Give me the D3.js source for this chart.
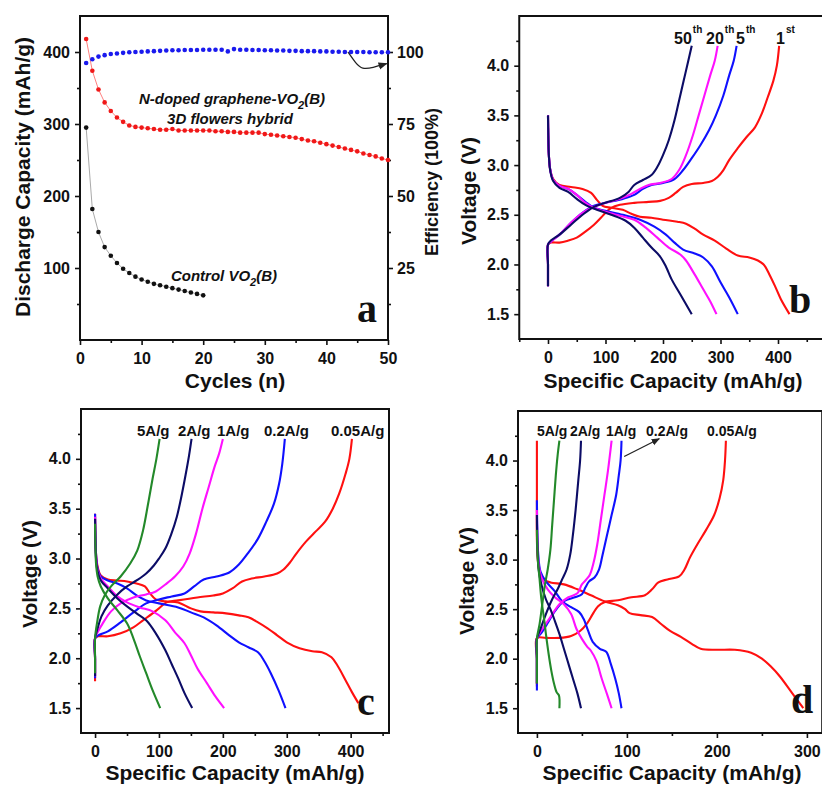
<!DOCTYPE html>
<html>
<head>
<meta charset="utf-8">
<script src="https://cdn.jsdelivr.net/npm/d3@7"></script>
<style>
  body { margin: 0; background: #fff; }
  svg text { font-family: "Liberation Sans", Arial, sans-serif; font-weight: bold; fill: #111; }
  .tick text { font-size: 16px; }
  .title { font-size: 21px; }
  .note { font-size: 15px; font-style: italic; }
  .lab { font-size: 15px; }
  .panel { font-family: "Liberation Serif", "Times New Roman", serif; font-size: 40px; }
</style>
</head>
<body>
<svg id="fig" width="822" height="787"></svg>
<script>
// ---- panel a: cycling ----
const cycles = [1,2,3,4,5,6,7,8,9,10,11,12,13,14,15,16,17,18,19,20,21,22,23,24,25,
  26,27,28,29,30,31,32,33,34,35,36,37,38,39,40,41,42,43,44,45,46,47,48,49,50];
const efficiency = [96.2,97.5,98.4,98.9,99.3,99.5,99.7,99.9,100.0,100.1,100.2,100.3,100.4,100.5,100.6,
  100.6,100.7,100.7,100.7,100.8,100.8,100.8,100.8,100.2,101.0,100.8,100.8,100.7,100.7,100.6,
  100.6,100.5,100.5,100.4,100.4,100.3,100.3,100.3,100.2,100.2,100.1,100.1,100.0,100.0,100.0,
  100.0,99.9,99.9,99.9,99.9];
const hybridCapacity = [418,374,348,330,318,309,303,298,296,295,294,293,292,292,293,291,291,291,291,291,
  291,290,290,289,289,288,288,288,288,286,285,284,283,282,281,279,277,276,274,272,
  270,268,266,264,262,259,257,255,252,250];
const controlCapacity = [295,182,150,129,117,107,99,93,88,84,81,78,76,74,72,70,68,66,64,62];

// ---- panel b: cycles 1st, 5th, 20th, 50th (capacity mAh/g, voltage V) ----
const bNames = ['1st', '5th', '20th', '50th'];
const b1stDischarge = [[0,3.5],[0.5,3.3],[1.5,3.1],[4,2.95],[9,2.86],[20,2.8],[40,2.78],[60,2.76],[75,2.72],[85,2.65],[95,2.59],[110,2.57],[130,2.55],[145,2.51],[160,2.48],[180,2.47],[200,2.45],[225,2.43],[240,2.41],[255,2.36],[270,2.3],[290,2.24],[310,2.16],[330,2.09],[350,2.07],[365,2.04],[375,2.0],[385,1.9],[395,1.78],[405,1.65],[420,1.5]];
const b1stCharge = [[0,1.78],[0,2.0],[0,2.2],[5,2.22],[20,2.22],[35,2.24],[50,2.27],[65,2.33],[80,2.4],[92,2.47],[100,2.52],[110,2.57],[125,2.6],[150,2.62],[175,2.63],[195,2.64],[210,2.67],[222,2.72],[235,2.78],[250,2.81],[270,2.82],[285,2.84],[295,2.88],[305,2.95],[315,3.05],[330,3.17],[345,3.28],[360,3.38],[372,3.52],[382,3.68],[392,3.85],[398,4.0],[402,4.2]];
const b5thDischarge = [[0,3.5],[0.5,3.3],[1.5,3.1],[4,2.95],[9,2.85],[20,2.79],[35,2.76],[50,2.7],[65,2.63],[80,2.57],[100,2.54],[130,2.5],[160,2.45],[185,2.38],[205,2.3],[220,2.22],[235,2.15],[255,2.11],[270,2.07],[285,1.98],[300,1.82],[315,1.67],[330,1.5]];
const b5thCharge = [[0,1.78],[0,2.0],[0,2.2],[5,2.23],[20,2.3],[40,2.42],[60,2.52],[80,2.59],[100,2.62],[130,2.66],[150,2.7],[165,2.76],[180,2.8],[200,2.82],[220,2.86],[235,2.95],[250,3.07],[265,3.2],[280,3.35],[292,3.5],[305,3.7],[315,3.9],[323,4.05],[328,4.2]];
const b20thDischarge = [[0,3.5],[0.5,3.3],[1.5,3.1],[4,2.95],[9,2.85],[20,2.79],[35,2.76],[50,2.7],[65,2.62],[80,2.57],[100,2.53],[125,2.49],[150,2.45],[170,2.37],[190,2.27],[210,2.17],[230,2.1],[240,2.04],[255,1.9],[270,1.75],[282,1.63],[293,1.5]];
const b20thCharge = [[0,1.78],[0,2.0],[0,2.2],[5,2.23],[20,2.3],[40,2.42],[60,2.52],[80,2.58],[100,2.62],[125,2.66],[145,2.71],[160,2.76],[175,2.8],[195,2.82],[215,2.86],[228,2.95],[240,3.1],[252,3.3],[262,3.5],[272,3.7],[282,3.9],[290,4.05],[295,4.2]];
const b50thDischarge = [[0,3.5],[0.5,3.3],[1.5,3.1],[4,2.94],[9,2.84],[20,2.77],[35,2.73],[50,2.66],[65,2.6],[85,2.55],[110,2.5],[135,2.44],[150,2.37],[165,2.27],[180,2.17],[195,2.08],[205,1.98],[215,1.85],[230,1.7],[250,1.5]];
const b50thCharge = [[0,1.78],[0,2.0],[0,2.2],[5,2.24],[20,2.3],[40,2.4],[60,2.5],[80,2.58],[100,2.62],[125,2.67],[140,2.73],[150,2.8],[165,2.85],[180,2.9],[190,2.98],[200,3.1],[210,3.25],[220,3.45],[228,3.65],[236,3.85],[244,4.05],[250,4.2]];

// ---- panel c: rates ----
const rateNames = ['0.05A/g', '0.2A/g', '1A/g', '2A/g', '5A/g'];
const c005Discharge = [[0,3.45],[0.5,3.25],[1.5,3.05],[4,2.92],[9,2.83],[20,2.79],[35,2.78],[50,2.77],[65,2.75],[78,2.72],[86,2.65],[95,2.59],[110,2.57],[130,2.56],[150,2.5],[165,2.47],[185,2.46],[205,2.45],[225,2.43],[240,2.41],[255,2.36],[270,2.3],[285,2.23],[300,2.16],[320,2.1],[340,2.07],[355,2.06],[370,2.01],[380,1.92],[392,1.78],[402,1.66],[412,1.55]];
const c005Charge = [[0,1.77],[0,2.0],[0,2.2],[5,2.22],[20,2.22],[40,2.25],[60,2.31],[75,2.38],[90,2.45],[100,2.5],[112,2.56],[130,2.58],[160,2.61],[185,2.63],[200,2.65],[215,2.7],[230,2.77],[245,2.8],[265,2.82],[285,2.85],[295,2.89],[305,2.96],[315,3.05],[330,3.17],[345,3.27],[360,3.37],[372,3.5],[382,3.65],[392,3.85],[398,4.0],[402,4.2]];
const c02Discharge = [[0,3.45],[0.5,3.25],[1.5,3.05],[4,2.9],[9,2.82],[20,2.78],[35,2.75],[50,2.7],[65,2.63],[80,2.58],[100,2.55],[130,2.51],[150,2.46],[170,2.41],[190,2.33],[210,2.23],[225,2.16],[240,2.11],[255,2.06],[265,1.97],[275,1.85],[287,1.68],[298,1.5]];
const c02Charge = [[0,1.8],[0,2.0],[0,2.2],[5,2.23],[20,2.27],[40,2.36],[60,2.46],[80,2.55],[100,2.59],[120,2.62],[140,2.65],[155,2.72],[170,2.79],[190,2.82],[210,2.86],[225,2.94],[240,3.06],[255,3.2],[268,3.37],[280,3.55],[288,3.75],[293,3.95],[297,4.2]];
const c1Discharge = [[0,3.42],[0.5,3.22],[1.5,3.02],[4,2.88],[9,2.8],[20,2.72],[35,2.62],[50,2.56],[70,2.51],[90,2.47],[110,2.38],[125,2.26],[140,2.15],[150,2.03],[160,1.9],[175,1.75],[188,1.62],[202,1.5]];
const c1Charge = [[0,1.82],[0,2.0],[0,2.2],[4,2.26],[12,2.35],[25,2.47],[40,2.55],[60,2.61],[80,2.64],[95,2.67],[110,2.74],[125,2.82],[138,2.92],[148,3.05],[158,3.25],[168,3.5],[178,3.72],[187,3.92],[194,4.05],[200,4.2]];
const c2Discharge = [[0,3.4],[0.5,3.2],[1.5,3.0],[4,2.87],[9,2.78],[20,2.7],[35,2.6],[50,2.52],[65,2.45],[80,2.38],[95,2.25],[110,2.08],[120,1.94],[130,1.8],[140,1.65],[152,1.5]];
const c2Charge = [[0,1.82],[0,2.0],[0,2.2],[4,2.3],[10,2.42],[20,2.53],[35,2.64],[50,2.72],[65,2.78],[80,2.85],[92,2.93],[100,3.0],[110,3.1],[119,3.24],[128,3.42],[136,3.65],[142,3.85],[147,4.03],[151,4.2]];
const c5Discharge = [[0,3.35],[0.5,3.15],[1.5,2.95],[4,2.82],[9,2.72],[20,2.6],[35,2.48],[50,2.35],[60,2.2],[70,2.02],[80,1.85],[90,1.68],[102,1.5]];
const c5Charge = [[0,1.85],[0,2.0],[0,2.2],[3,2.35],[8,2.52],[15,2.63],[25,2.72],[40,2.82],[55,2.95],[66,3.08],[75,3.28],[83,3.55],[90,3.8],[96,4.0],[101,4.2]];

// ---- panel d: rates ----
const d005Discharge = [[0,4.2],[0,3.6],[0,3.2],[1,3.0],[3,2.88],[8,2.8],[15,2.77],[30,2.75],[45,2.7],[60,2.64],[75,2.58],[90,2.54],[98,2.5],[103,2.46],[115,2.44],[128,2.42],[138,2.35],[148,2.28],[160,2.22],[172,2.15],[182,2.1],[200,2.09],[220,2.09],[238,2.06],[250,2.0],[260,1.92],[270,1.82],[283,1.66],[296,1.5]];
const d005Charge = [[0,1.72],[0,2.0],[0,2.21],[10,2.21],[25,2.21],[38,2.23],[48,2.28],[56,2.36],[62,2.45],[68,2.53],[75,2.57],[90,2.59],[105,2.62],[120,2.64],[128,2.7],[135,2.77],[145,2.8],[158,2.83],[164,2.9],[170,3.02],[178,3.15],[188,3.3],[197,3.45],[203,3.62],[207,3.8],[209,4.0],[210,4.2]];
const d02Discharge = [[0,3.6],[0.5,3.3],[1.5,3.05],[4,2.88],[10,2.78],[20,2.68],[28,2.58],[38,2.52],[47,2.47],[52,2.4],[57,2.28],[62,2.17],[70,2.1],[77,2.07],[82,1.95],[87,1.8],[91,1.65],[94,1.5]];
const d02Charge = [[0,1.68],[0,2.0],[0,2.2],[5,2.26],[12,2.36],[20,2.48],[30,2.58],[42,2.62],[50,2.65],[54,2.72],[58,2.78],[64,2.82],[69,2.9],[73,3.05],[78,3.25],[83,3.45],[88,3.65],[91,3.85],[93,4.0],[94,4.2]];
const d1Discharge = [[0,3.5],[0.5,3.2],[2,2.95],[5,2.82],[12,2.7],[20,2.62],[30,2.55],[38,2.45],[44,2.3],[50,2.2],[56,2.12],[60,2.08],[66,1.98],[72,1.8],[78,1.64],[83,1.5]];
const d1Charge = [[0,1.75],[0,2.0],[0,2.2],[6,2.3],[15,2.42],[25,2.55],[35,2.62],[45,2.66],[50,2.75],[55,2.8],[59,2.85],[63,2.97],[67,3.15],[71,3.4],[75,3.65],[79,3.9],[83,4.2]];
const d2Discharge = [[0,3.45],[0.5,3.15],[2,2.9],[5,2.75],[10,2.6],[15,2.5],[20,2.38],[25,2.25],[30,2.1],[35,1.95],[40,1.8],[45,1.65],[49,1.5]];
const d2Charge = [[0,1.75],[0,2.0],[0,2.2],[4,2.3],[10,2.45],[17,2.6],[23,2.7],[28,2.8],[33,2.9],[37,3.05],[40,3.25],[43,3.5],[46,3.8],[48,4.0],[49,4.2]];
const d5Discharge = [[0,3.3],[1,3.0],[3,2.8],[5,2.6],[8,2.4],[10,2.25],[13,2.05],[16,1.88],[19,1.75],[22,1.66],[24.5,1.63],[25,1.5]];
const d5Charge = [[0,1.75],[0,2.0],[0,2.2],[3,2.35],[6,2.55],[9,2.75],[12,2.9],[15,3.1],[17,3.35],[19,3.6],[21,3.85],[23,4.05],[25,4.2]];

// tick labels
const cycleTicks = [0, 10, 20, 30, 40, 50];
const capTicks = [100, 200, 300, 400];
const effTicks = [25, 50, 75, 100];
const voltTicks = [1.5, 2.0, 2.5, 3.0, 3.5, 4.0];
const specTicks = [0, 100, 200, 300, 400];
const specTicksD = [0, 100, 200, 300];

const red = '#ff1010', blue = '#1010ff', magenta = '#ff10ff', navy = '#0c0c66', green = '#23892a';

const svg = d3.select('#fig');

svg.append('defs').append('marker')
  .attr('id', 'arrow')
  .attr('viewBox', '0 0 10 10')
  .attr('refX', 9).attr('refY', 5)
  .attr('markerWidth', 7).attr('markerHeight', 7)
  .attr('orient', 'auto')
  .append('path')
  .attr('d', 'M0,1 L10,5 L0,9 Z')
  .attr('fill', '#222');

// frame + ticks for a panel
function axes(x, y, o) {
  const [x0, x1] = x.range(), [y0, y1] = y.range();
  const g = svg.append('g');

  g.append('g')
    .attr('transform', `translate(0, ${y0})`)
    .call(d3.axisBottom(x).tickValues(o.xMinor).tickSize(3).tickFormat(''));
  g.append('g')
    .attr('transform', `translate(0, ${y0})`)
    .call(d3.axisBottom(x).tickValues(o.xMajor).tickSize(5).tickPadding(8));

  g.append('g')
    .attr('transform', `translate(${x0}, 0)`)
    .call(d3.axisLeft(y).tickValues(o.yMinor).tickSize(3).tickFormat(''));
  g.append('g')
    .attr('transform', `translate(${x0}, 0)`)
    .call(d3.axisLeft(y).tickValues(o.yMajor).tickSize(5).tickPadding(5).tickFormat(o.yFormat || null));

  g.selectAll('.domain').remove();
  g.selectAll('.tick line').attr('stroke', '#111').attr('stroke-width', 1.6);

  g.append('rect')
    .attr('x', x0).attr('y', y1)
    .attr('width', x1 - x0).attr('height', y0 - y1)
    .attr('fill', 'none').attr('stroke', '#111').attr('stroke-width', 2);

  svg.append('text').attr('class', 'title')
    .attr('x', o.xt[0]).attr('y', o.xt[1])
    .attr('text-anchor', 'middle').text(o.xTitle);
  svg.append('text').attr('class', 'title')
    .attr('transform', `translate(${o.yt[0]}, ${o.yt[1]}) rotate(-90)`)
    .attr('text-anchor', 'middle').text(o.yTitle);
  return g;
}

function curves(x, y, list, colors) {
  const line = d3.line()
    .x(d => x(d[0]))
    .y(d => y(d[1]))
    .curve(d3.curveCatmullRom.alpha(0.5));
  svg.append('g').selectAll('path')
    .data(list)
    .enter()
    .append('path')
    .attr('d', (d) => line(d))
    .attr('fill', 'none')
    .attr('stroke', (d, i) => colors[i])
    .attr('stroke-width', 2.1)
    .attr('stroke-linejoin', 'round');
}

// ================= a =================
const xA = d3.scaleLinear().domain([0, 50]).range([80, 388]);
const yA = d3.scaleLinear().domain([0, 450]).range([340, 16]);
const yE = d3.scaleLinear().domain([0, 112.5]).range([340, 16]);

axes(xA, yA, {
  xMajor: cycleTicks, xMinor: [5, 15, 25, 35, 45],
  yMajor: capTicks, yMinor: [50, 150, 250, 350],
  xTitle: 'Cycles (n)', xt: [235, 388],
  yTitle: 'Discharge Capacity (mAh/g)', yt: [30, 177]
});

const right = svg.append('g').attr('transform', 'translate(388, 0)');
right.append('g').call(d3.axisRight(yE).tickValues([12.5, 37.5, 62.5, 87.5]).tickSize(3).tickFormat(''));
right.append('g').call(d3.axisRight(yE).tickValues(effTicks).tickSize(5).tickPadding(4));
right.selectAll('.domain').remove();
right.selectAll('.tick line').attr('stroke', '#111').attr('stroke-width', 1.6);

svg.append('text').attr('class', 'title')
  .style('font-size', '18px')
  .attr('transform', 'translate(438, 182) rotate(-90)')
  .attr('text-anchor', 'middle').text('Efficiency (100%)');

const hybrid = cycles.map((c, i) => [c, hybridCapacity[i]]);
const control = controlCapacity.map((v, i) => [cycles[i], v]);
const eff = cycles.map((c, i) => [c, efficiency[i]]);

svg.append('path')
  .attr('d', d3.line().x(d => xA(d[0])).y(d => yA(d[1]))(hybrid))
  .attr('fill', 'none').attr('stroke', '#ff8080').attr('stroke-width', 1);
svg.append('path')
  .attr('d', d3.line().x(d => xA(d[0])).y(d => yA(d[1]))(control))
  .attr('fill', 'none').attr('stroke', '#aaa').attr('stroke-width', 1);

function dots(data, yS, color) {
  svg.append('g').selectAll('circle')
    .data(data)
    .enter()
    .append('circle')
    .attr('cx', d => xA(d[0]))
    .attr('cy', d => yS(d[1]))
    .attr('r', 2.3)
    .attr('fill', color);
}
dots(hybrid, yA, '#f01818');
dots(control, yA, '#111');
dots(eff, yE, '#1a1aee');

// curved pointer from the efficiency row to the right axis
svg.append('path')
  .attr('d', d3.line().x(d => xA(d[0])).y(d => yA(d[1])).curve(d3.curveBasis)(
    [[43.5, 400], [44.8, 384], [45.8, 376], [47.5, 378], [49.8, 384]]))
  .attr('fill', 'none').attr('stroke', '#222').attr('stroke-width', 1.3)
  .attr('marker-end', 'url(#arrow)');

const n1 = svg.append('text').attr('class', 'note').attr('x', 232).attr('y', 104).attr('text-anchor', 'middle');
n1.append('tspan').text('N-doped graphene-VO');
n1.append('tspan').attr('dy', 5).style('font-size', '11px').text('2');
n1.append('tspan').attr('dy', -5).text('(B)');
svg.append('text').attr('class', 'note').attr('x', 230).attr('y', 124).attr('text-anchor', 'middle').text('3D flowers hybrid');
const n2 = svg.append('text').attr('class', 'note').attr('x', 224).attr('y', 281).attr('text-anchor', 'middle');
n2.append('tspan').text('Control VO');
n2.append('tspan').attr('dy', 5).style('font-size', '11px').text('2');
n2.append('tspan').attr('dy', -5).text('(B)');

svg.append('text').attr('class', 'panel').attr('x', 357).attr('y', 322).text('a');

// ================= b =================
const xB = d3.scaleLinear().domain([-50, 480]).range([519.25, 824]);
const yB = d3.scaleLinear().domain([1.25, 4.5]).range([339, 16]);

axes(xB, yB, {
  xMajor: specTicks, xMinor: [-50, 50, 150, 250, 350, 450],
  yMajor: voltTicks, yMinor: [1.75, 2.25, 2.75, 3.25, 3.75, 4.25],
  yFormat: d3.format('.1f'),
  xTitle: 'Specific Capacity (mAh/g)', xt: [673, 388],
  yTitle: 'Voltage (V)', yt: [476, 191]
});

curves(xB, yB,
  [b1stDischarge, b1stCharge, b5thDischarge, b5thCharge, b20thDischarge, b20thCharge, b50thDischarge, b50thCharge],
  [red, red, blue, blue, magenta, magenta, navy, navy]);

const bLab = [[776, 'st'], [736, 'th'], [706, 'th'], [674, 'th']];
bNames.forEach((n, i) => {
  const t = svg.append('text').attr('class', 'lab').style('font-size', '16px')
    .attr('x', bLab[i][0]).attr('y', 44);
  t.append('tspan').text(n.replace(/\D/g, ''));
  t.append('tspan').attr('dy', -11).attr('dx', 1).style('font-size', '10px').text(bLab[i][1]);
});

svg.append('text').attr('class', 'panel').attr('x', 789).attr('y', 313).text('b');

// ================= c =================
const xC = d3.scaleLinear().domain([-22, 460]).range([81, 389]);
const yC = d3.scaleLinear().domain([1.25, 4.5]).range([733, 409]);

axes(xC, yC, {
  xMajor: specTicks, xMinor: [50, 150, 250, 350, 450],
  yMajor: voltTicks, yMinor: [1.75, 2.25, 2.75, 3.25, 3.75, 4.25],
  yFormat: d3.format('.1f'),
  xTitle: 'Specific Capacity (mAh/g)', xt: [235, 780],
  yTitle: 'Voltage (V)', yt: [37, 574]
});

curves(xC, yC,
  [c005Discharge, c005Charge, c02Discharge, c02Charge, c1Discharge, c1Charge, c2Discharge, c2Charge, c5Discharge, c5Charge],
  [red, red, blue, blue, magenta, magenta, navy, navy, green, green]);

const cLabX = [331, 264, 217, 178, 137];
rateNames.forEach((n, i) => {
  svg.append('text').attr('class', 'lab').attr('x', cLabX[i]).attr('y', 436).text(n);
});
svg.append('text').attr('class', 'panel').attr('x', 357).attr('y', 715).text('c');

// ================= d =================
const xD = d3.scaleLinear().domain([-21, 317]).range([518, 822.2]);
const yD = d3.scaleLinear().domain([1.25, 4.5]).range([733, 411]);

axes(xD, yD, {
  xMajor: specTicksD, xMinor: [50, 150, 250],
  yMajor: voltTicks, yMinor: [1.75, 2.25, 2.75, 3.25, 3.75, 4.25],
  yFormat: d3.format('.1f'),
  xTitle: 'Specific Capacity (mAh/g)', xt: [672, 780],
  yTitle: 'Voltage (V)', yt: [474, 581]
});

curves(xD, yD,
  [d005Discharge, d005Charge, d02Discharge, d02Charge, d1Discharge, d1Charge, d2Discharge, d2Charge, d5Discharge, d5Charge],
  [red, red, blue, blue, magenta, magenta, navy, navy, green, green]);

const dLabX = [707, 646, 606, 570, 537];
rateNames.forEach((n, i) => {
  svg.append('text').attr('class', 'lab').style('font-size', '14px')
    .attr('x', dLabX[i]).attr('y', 436).text(n);
});

svg.append('line')
  .attr('x1', xD(97)).attr('y1', yD(4.04))
  .attr('x2', xD(136)).attr('y2', yD(4.22))
  .attr('stroke', '#222').attr('stroke-width', 1.2)
  .attr('marker-end', 'url(#arrow)');

svg.append('text').attr('class', 'panel').attr('x', 791).attr('y', 713).text('d');
</script>
</body>
</html>
